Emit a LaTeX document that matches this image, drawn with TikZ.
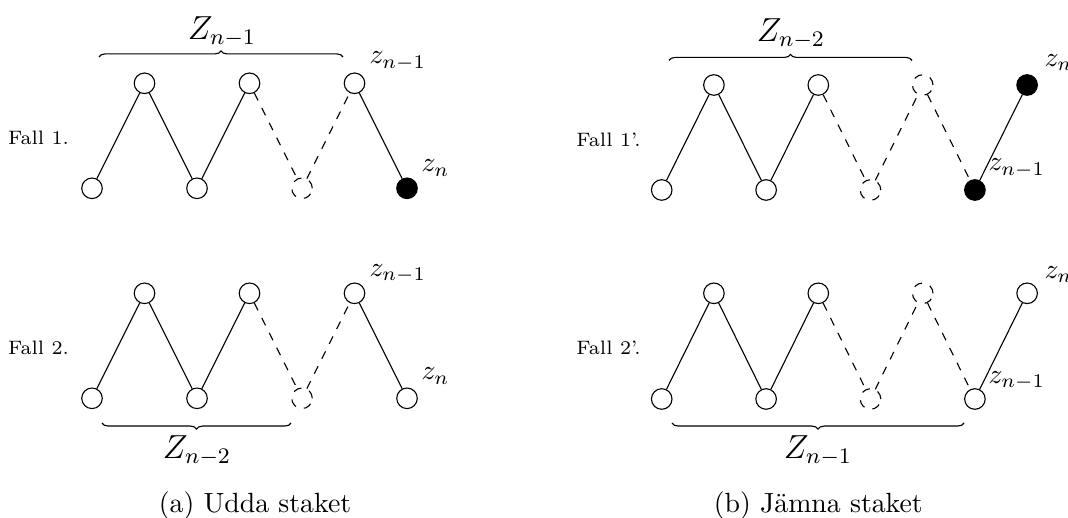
\documentclass[tikz,border=0pt]{standalone}
\usetikzlibrary{decorations.pathreplacing}
\begin{document}
\begin{tikzpicture}[x=0.36pt,y=-0.36pt,
  v/.style={circle,draw,minimum size=7.4pt,inner sep=0pt},
  vd/.style={v,dashed},
  vf/.style={v,fill=black},
  lab/.style={anchor=base west,inner sep=0pt},
  fall/.style={anchor=base,inner sep=0pt,font=\scriptsize},
  capt/.style={anchor=base,inner sep=0pt},
  bigZ/.style={anchor=base,inner sep=0pt,font=\large},
  brc/.style={decorate,decoration={brace,amplitude=2.2pt}},
  dsh/.style={dashed}]
\useasboundingbox (0,0) rectangle (1068,518);

% ---------- (a) Fall 1 ----------
\node[v]  (a1) at (92,188.3) {};
\node[v]  (a2) at (144.5,83.3) {};
\node[v]  (a3) at (197,188.3) {};
\node[v]  (a4) at (249.5,83.3) {};
\node[vd] (a5) at (302,188.3) {};
\node[v]  (a6) at (354.5,83.3) {};
\node[vf] (a7) at (407,188.3) {};
\draw (a1) -- (a2) -- (a3) -- (a4);
\draw[dsh] (a4) -- (a5) -- (a6);
\draw (a6) -- (a7);
\node[fall] (fa1) at (38.5,145) {Fall 1.};
\node[lab] (za6) at (369,64) {$z_{n-1}$};
\node[lab] (za7) at (421,172) {$z_n$};
\coordinate (ba1) at (99,57);
\coordinate (ba2) at (343,57);
\draw[brc] (ba1) -- (ba2);
\node[bigZ] (Za1) at (222,39.3) {$Z_{n-1}$};

% ---------- (a) Fall 2 ----------
\node[v]  (b1) at (92,398.3) {};
\node[v]  (b2) at (144.5,293.3) {};
\node[v]  (b3) at (197,398.3) {};
\node[v]  (b4) at (249.5,293.3) {};
\node[vd] (b5) at (302,398.3) {};
\node[v]  (b6) at (354.5,293.3) {};
\node[v]  (b7) at (407,398.3) {};
\draw (b1) -- (b2) -- (b3) -- (b4);
\draw[dsh] (b4) -- (b5) -- (b6);
\draw (b6) -- (b7);
\node[fall] (fb1) at (38.5,355) {Fall 2.};
\node[lab] (zb6) at (369,276.7) {$z_{n-1}$};
\node[lab] (zb7) at (421,380) {$z_n$};
\coordinate (bb1) at (291,423);
\coordinate (bb2) at (102,423);
\draw[brc] (bb1) -- (bb2);
\node[bigZ] (Zb1) at (197,458.3) {$Z_{n-2}$};

\node[capt] (capa) at (255,512) {(a) Udda staket};

% ---------- (b) Fall 1' ----------
\node[v]  (c1) at (661.7,190) {};
\node[v]  (c2) at (713.9,85) {};
\node[v]  (c3) at (766.1,190) {};
\node[v]  (c4) at (818.3,85) {};
\node[vd] (c5) at (870.5,190) {};
\node[vd] (c6) at (922.7,85) {};
\node[vf] (c7) at (974.9,190) {};
\node[vf] (c8) at (1027.1,85) {};
\draw (c1) -- (c2) -- (c3) -- (c4);
\draw[dsh] (c4) -- (c5) -- (c6) -- (c7);
\draw (c7) -- (c8);
\node[fall] (fc1) at (608.5,146.7) {Fall 1'.};
\node[lab] (zc8) at (1044,66.7) {$z_n$};
\node[lab] (zc7) at (988,171) {$z_{n-1}$};
\coordinate (bc1) at (669,60.5);
\coordinate (bc2) at (912,60.5);
\draw[brc] (bc1) -- (bc2);
\node[bigZ] (Zc1) at (791,41.7) {$Z_{n-2}$};

% ---------- (b) Fall 2' ----------
\node[v]  (d1) at (661.7,399) {};
\node[v]  (d2) at (713.9,293.3) {};
\node[v]  (d3) at (766.1,399) {};
\node[v]  (d4) at (818.3,293.3) {};
\node[vd] (d5) at (870.5,399) {};
\node[vd] (d6) at (922.7,293.3) {};
\node[v]  (d7) at (974.9,399) {};
\node[v]  (d8) at (1027.1,293.3) {};
\draw (d1) -- (d2) -- (d3) -- (d4);
\draw[dsh] (d4) -- (d5) -- (d6) -- (d7);
\draw (d7) -- (d8);
\node[fall] (fd1) at (608.5,355) {Fall 2'.};
\node[lab] (zd8) at (1044,278.3) {$z_n$};
\node[lab] (zd7) at (988,383.3) {$z_{n-1}$};
\coordinate (bd1) at (964,423);
\coordinate (bd2) at (672,423);
\draw[brc] (bd1) -- (bd2);
\node[bigZ] (Zd1) at (818,458.3) {$Z_{n-1}$};

\node[capt] (capb) at (818.3,512) {(b) Jämna staket};
\end{tikzpicture}
\end{document}
